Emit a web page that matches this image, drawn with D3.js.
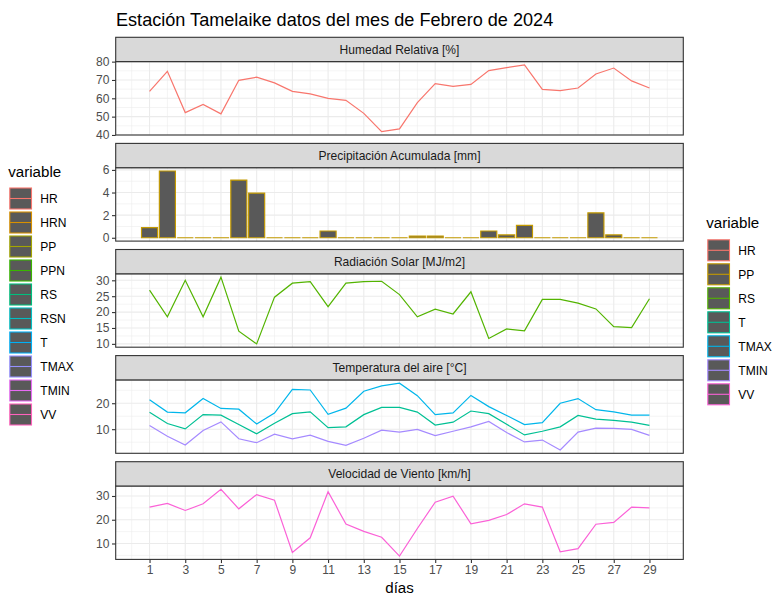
<!DOCTYPE html>
<html><head><meta charset="utf-8">
<script src="https://cdn.jsdelivr.net/npm/d3@7"></script>
<style>body{margin:0;background:#fff}svg{display:block}</style>
</head><body>
<svg id="c" width="772" height="595"></svg>
<script>
const days = d3.range(1, 30);
const HR = [63.8,74.7,52.2,56.7,51.5,69.8,71.5,68.4,63.8,62.4,60.0,58.9,51.8,41.8,43.3,57.6,68.0,66.5,67.6,75.1,76.7,78.2,64.9,64.2,65.6,73.3,76.5,69.5,65.6];
const PP = [0.9,5.9,0,0,0,5.1,3.95,0,0,0,0.6,0,0,0,0,0.15,0.15,0,0,0.6,0.25,1.1,0,0,0,2.2,0.25,0,0];
const RS = [26.9,18.5,30.0,18.5,31.0,14.0,10.0,24.7,29.1,29.6,21.7,29.1,29.6,29.7,25.5,18.5,20.9,19.4,26.4,11.7,14.7,14.1,24.0,24.0,22.8,21.0,15.4,15.1,24.2];
const TMAX = [21.3,16.6,16.3,21.8,18.0,17.7,12.0,16.2,25.3,25.1,15.7,18.1,24.6,26.7,27.7,22.9,15.6,16.3,23.0,18.7,15.3,11.8,12.5,20.0,21.8,17.5,16.7,15.4,15.4];
const T = [16.5,12.2,10.1,15.6,15.4,11.8,8.2,12.3,16.0,16.7,10.6,10.9,15.6,18.4,18.4,16.6,11.6,12.7,17.0,16.0,11.9,7.8,9.2,10.9,15.3,13.9,13.4,12.7,11.5];
const TMIN = [11.4,7.3,3.9,9.5,12.8,6.3,4.8,8.1,6.3,7.7,5.3,3.8,6.5,9.6,8.9,9.9,7.5,9.2,10.9,13.0,8.7,5.1,5.8,2.0,8.9,10.4,10.3,9.9,7.6];
const VV = [25.3,26.9,23.9,26.7,32.8,24.6,30.6,28.2,6.25,12.4,31.8,18.2,15.1,12.6,4.7,16.3,27.4,29.9,18.3,19.7,22.2,26.7,25.3,6.5,7.8,18.1,18.9,25.3,25.0];

const xMajor = d3.range(1, 30, 2);
const xMinor = d3.range(0, 31, 2);
const hrTicks = [40,50,60,70,80], hrMinor = [45,55,65,75];
const ppTicks = [0,2,4,6], ppMinor = [1,3,5];
const rsTicks = [10,15,20,25,30], rsMinor = [12.5,17.5,22.5,27.5];
const tTicks = [10,20], tMinor = [5,15,25];
const vvTicks = [10,20,30], vvMinor = [5,15,25];

const stripTitles = ["Humedad Relativa [%]","Precipitación Acumulada [mm]","Radiación Solar [MJ/m2]","Temperatura del aire [°C]","Velocidad de Viento [km/h]"];
const legendRight = ["HR","PP","RS","T","TMAX","TMIN","VV"];
const colorsRight = ["#F8766D","#C49A00","#53B400","#00C094","#00B6EB","#A58AFF","#FB61D7"];
const legendLeft = ["HR","HRN","PP","PPN","RS","RSN","T","TMAX","TMIN","VV"];
const colorsLeft = ["#F8766D","#D89000","#A3A500","#39B600","#00BF7D","#00BFC4","#00B0F6","#9590FF","#E76BF3","#FF62BC"];
const col = Object.fromEntries(legendRight.map((k,i)=>[k,colorsRight[i]]));

const panels = [
  {title: stripTitles[0], type:"line", series:[["HR",HR]], ticks:hrTicks, minor:hrMinor},
  {title: stripTitles[1], type:"bar", series:[["PP",PP]], ticks:ppTicks, minor:ppMinor},
  {title: stripTitles[2], type:"line", series:[["RS",RS]], ticks:rsTicks, minor:rsMinor},
  {title: stripTitles[3], type:"line", series:[["TMAX",TMAX],["T",T],["TMIN",TMIN]], ticks:tTicks, minor:tMinor},
  {title: stripTitles[4], type:"line", series:[["VV",VV]], ticks:vvTicks, minor:vvMinor},
];

const FONT = "'Liberation Sans', Arial, sans-serif";
const svg = d3.select("#c").style("font-family", FONT);
const L = 115.7, R = 683.3, top0 = 37.3, step = 106.1, stripH = 24.3, panelH = 73.4;
const x = d3.scaleLinear().domain([-0.895, 30.895]).range([L, R]);
const FS = 12.05;

svg.append("text").attr("x", 116).attr("y", 26).attr("font-size", 18.1).attr("fill", "#000")
  .text("Estación Tamelaike datos del mes de Febrero de 2024");

panels.forEach((p, i) => {
  const sy = top0 + i*step, py = sy + stripH, pb = py + panelH;
  let lo, hi;
  if (p.type === "bar") { lo = 0; hi = d3.max(p.series[0][1]); }
  else { lo = d3.min(p.series, s=>d3.min(s[1])); hi = d3.max(p.series, s=>d3.max(s[1])); }
  const ex = (hi-lo)*0.05;
  const y = d3.scaleLinear().domain([lo-ex, hi+ex]).range([pb, py]);
  const g = svg.append("g");
  g.append("rect").attr("x", L).attr("y", py).attr("width", R-L).attr("height", panelH).attr("fill", "#fff");
  g.selectAll(null).data(p.minor.filter(v=>v>=y.domain()[0]&&v<=y.domain()[1])).join("line")
    .attr("x1", L).attr("x2", R).attr("y1", d=>y(d)).attr("y2", d=>y(d)).attr("stroke", "#EBEBEB").attr("stroke-width", 0.55);
  g.selectAll(null).data(xMinor).join("line")
    .attr("x1", d=>x(d)).attr("x2", d=>x(d)).attr("y1", py).attr("y2", pb).attr("stroke", "#EBEBEB").attr("stroke-width", 0.55);
  g.selectAll(null).data(p.ticks).join("line")
    .attr("x1", L).attr("x2", R).attr("y1", d=>y(d)).attr("y2", d=>y(d)).attr("stroke", "#EBEBEB").attr("stroke-width", 1.1);
  g.selectAll(null).data(xMajor).join("line")
    .attr("x1", d=>x(d)).attr("x2", d=>x(d)).attr("y1", py).attr("y2", pb).attr("stroke", "#EBEBEB").attr("stroke-width", 1.1);
  if (p.type === "bar") {
    const w = 0.9;
    g.selectAll(null).data(p.series[0][1]).join("path")
      .attr("d", (d,j) => {
        const x0 = x(days[j]-w/2), x1 = x(days[j]+w/2), y0 = y(0), y1 = y(d);
        return `M${x0},${y0}L${x0},${y1}L${x1},${y1}L${x1},${y0}Z`;
      })
      .attr("fill", "#595959").attr("stroke", col[p.series[0][0]]).attr("stroke-width", 1.15);
  } else {
    p.series.forEach(([k, vals]) => {
      g.append("path").datum(vals)
        .attr("d", d3.line().x((d,j)=>x(days[j])).y(d=>y(d)))
        .attr("fill", "none").attr("stroke", col[k]).attr("stroke-width", 1.2);
    });
  }
  g.append("rect").attr("x", L).attr("y", py).attr("width", R-L).attr("height", panelH)
    .attr("fill", "none").attr("stroke", "#333333").attr("stroke-width", 1.1);
  g.append("rect").attr("x", L).attr("y", sy).attr("width", R-L).attr("height", stripH)
    .attr("fill", "#D9D9D9").attr("stroke", "#333333").attr("stroke-width", 1.1);
  g.append("text").attr("x", (L+R)/2).attr("y", sy + stripH/2 + 4.2).attr("text-anchor", "middle")
    .attr("font-size", FS).attr("fill", "#1A1A1A").text(p.title);
  const ya = g.append("g").attr("transform", `translate(${L},0)`)
    .call(d3.axisLeft(y).tickValues(p.ticks).tickSize(3.7).tickPadding(2.5).tickFormat(d3.format("d")));
  ya.select(".domain").remove();
  ya.selectAll("line").attr("stroke", "#333333").attr("stroke-width", 1.1);
  ya.selectAll("text").attr("font-size", FS).attr("fill", "#4D4D4D").attr("font-family", FONT);
  if (i === panels.length - 1) {
    const xa = g.append("g").attr("transform", `translate(0,${pb})`)
      .call(d3.axisBottom(x).tickValues(xMajor).tickSize(3.7).tickPadding(2.5).tickFormat(d3.format("d")));
    xa.select(".domain").remove();
    xa.selectAll("line").attr("stroke", "#333333").attr("stroke-width", 1.1);
    xa.selectAll("text").attr("font-size", FS).attr("fill", "#4D4D4D").attr("font-family", FONT);
    svg.append("text").attr("x", (L+R)/2).attr("y", 593).attr("text-anchor", "middle")
      .attr("font-size", 15.1).attr("fill", "#000").text("días");
  }
});

function legend(x0, titleY, keyTop, names, colors) {
  const g = svg.append("g");
  g.append("text").attr("x", x0 - 1).attr("y", titleY).attr("font-size", 15.1).attr("fill", "#000").text("variable");
  names.forEach((n, i) => {
    const ky = keyTop + i*24;
    g.append("rect").attr("x", x0+0.5).attr("y", ky+0.5).attr("width", 21.7).attr("height", 21).attr("fill", "#595959")
      .attr("stroke", colors[i]).attr("stroke-width", 1.1);
    g.append("line").attr("x1", x0+0.5).attr("x2", x0+22.2).attr("y1", ky+11).attr("y2", ky+11)
      .attr("stroke", colors[i]).attr("stroke-width", 1.1);
    g.append("text").attr("x", x0 + 31).attr("y", ky + 15.2).attr("font-size", FS).attr("fill", "#000").text(n);
  });
}
legend(9.3, 177, 187.5, legendLeft, colorsLeft);
legend(707.3, 228, 239.3, legendRight, colorsRight);
</script>
</body></html>
